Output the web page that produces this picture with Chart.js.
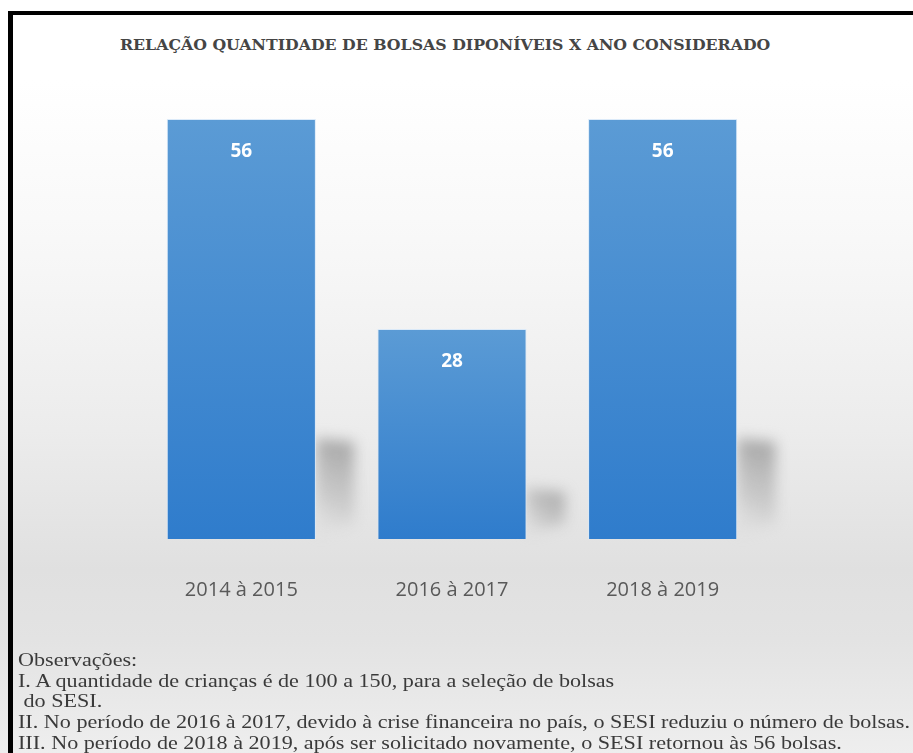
<!DOCTYPE html>
<html>
<head>
<meta charset="utf-8">
<script src="https://cdn.jsdelivr.net/npm/chart.js@4/dist/chart.umd.min.js"></script>
<style>
  html, body { margin: 0; padding: 0; }
  body {
    width: 913px; height: 753px; overflow: hidden; position: relative;
    background: linear-gradient(to bottom, #ffffff 0px, #ffffff 80px, #f8f8f8 240px, #ececec 430px, #e0e0e0 570px, #e3e3e3 640px, #eeeeee 753px);
  }
  #frame {
    position: absolute; left: 8px; top: 11px; right: -10px; bottom: -10px;
    border-top: 4px solid #000; border-left: 5px solid #000;
  }
  #wrap { position: absolute; left: 0; top: 0; width: 913px; height: 660px; }
  #title {
    position: absolute; top: 36px; left: 120px; white-space: nowrap;
    font-family: "DejaVu Serif Condensed", "DejaVu Serif", serif; font-weight: bold;
    font-size: 17px; line-height: 20px; color: #454545; transform-origin: left top;
  }
  #notes {
    position: absolute; left: 18px; top: 650px;
    font-family: "Liberation Serif", serif; font-size: 17px; line-height: 18px;
    color: #3a3a3a; transform-origin: left top; white-space: pre;
  }
</style>
</head>
<body>
<div id="frame"></div>
<div id="title">RELAÇÃO QUANTIDADE DE BOLSAS DIPONÍVEIS X ANO CONSIDERADO</div>
<div id="wrap"><canvas id="grafico" width="913" height="660"></canvas></div>
<div id="notes"></div>
<script>
const periodos = ['2014 à 2015', '2016 à 2017', '2018 à 2019'];
const bolsas = [56, 28, 56];
const observacoes = [
  'Observações:',
  'I. A quantidade de crianças é de 100 a 150, para a seleção de bolsas',
  ' do SESI.',
  'II. No período de 2016 à 2017, devido à crise financeira no país, o SESI reduziu o número de bolsas.',
  'III. No período de 2018 à 2019, após ser solicitado novamente, o SESI retornou às 56 bolsas.'
];

// texto das observações
const notes = document.getElementById('notes');
notes.textContent = observacoes.join('\n');
const fit = (el, w, sy) => { el.style.transform = 'scale(' + (w / el.scrollWidth) + ',' + sy + ')'; };
fit(notes, 892, 1.15);
fit(document.getElementById('title'), 650, 0.9);

// gradiente de cada barra, do topo da barra até a base
const corBarra = (ctx) => {
  const chart = ctx.chart;
  const y = chart.scales.y;
  if (!chart.chartArea || !y || ctx.dataIndex === undefined) return '#4a8fd3';
  const topo = y.getPixelForValue(bolsas[ctx.dataIndex]);
  const base = y.getPixelForValue(0);
  const g = chart.ctx.createLinearGradient(0, topo, 0, base);
  g.addColorStop(0, '#5b9bd5');
  g.addColorStop(1, '#2f7ccc');
  return g;
};

// sombra cinza à direita das barras
const sombras = {
  id: 'sombras',
  beforeDatasetsDraw(chart) {
    const c = chart.ctx;
    chart.getDatasetMeta(0).data.forEach((bar) => {
      const dir = bar.x + bar.width / 2;
      const h = (bar.base - bar.y) * 0.24;
      c.save();
      c.filter = 'blur(7px)';
      const g = c.createLinearGradient(dir + 40, bar.base - h, dir, bar.base);
      g.addColorStop(0, 'rgba(140,140,140,0.8)');
      g.addColorStop(0.6, 'rgba(175,175,175,0.5)');
      g.addColorStop(1, 'rgba(220,220,220,0.1)');
      c.fillStyle = g;
      c.beginPath();
      c.moveTo(dir, bar.base - h);
      c.lineTo(dir + 38, bar.base - h + 4);
      c.lineTo(dir + 38, bar.base - 16);
      c.lineTo(dir, bar.base - 4);
      c.closePath();
      c.fill();
      c.restore();
    });
  }
};

// rótulos de valor dentro das barras
const rotulos = {
  id: 'rotulos',
  afterDatasetsDraw(chart) {
    const c = chart.ctx;
    c.save();
    c.font = 'bold 19px "Open Sans", sans-serif';
    c.fillStyle = '#ffffff';
    c.textAlign = 'center';
    c.textBaseline = 'middle';
    chart.getDatasetMeta(0).data.forEach((bar, i) => {
      c.fillText(String(bolsas[i]), bar.x, bar.y + 33);
    });
    c.restore();
  }
};

new Chart(document.getElementById('grafico'), {
  type: 'bar',
  data: {
    labels: periodos,
    datasets: [{
      data: bolsas,
      backgroundColor: corBarra,
      borderColor: 'rgba(215,232,248,0.9)',
      borderWidth: 1,
      barPercentage: 0.708,
      categoryPercentage: 1
    }]
  },
  options: {
    responsive: false,
    animation: false,
    layout: { padding: { left: 136, right: 145, top: 89, bottom: 19 } },
    plugins: { legend: { display: false }, tooltip: { enabled: false } },
    scales: {
      x: {
        grid: { display: false, drawTicks: false },
        border: { display: false },
        ticks: { color: '#595959', padding: 39, font: { family: '"Open Sans", sans-serif', size: 20 } }
      },
      y: { display: false, min: 0, max: 60 }
    }
  },
  plugins: [sombras, rotulos]
});
</script>
</body>
</html>
